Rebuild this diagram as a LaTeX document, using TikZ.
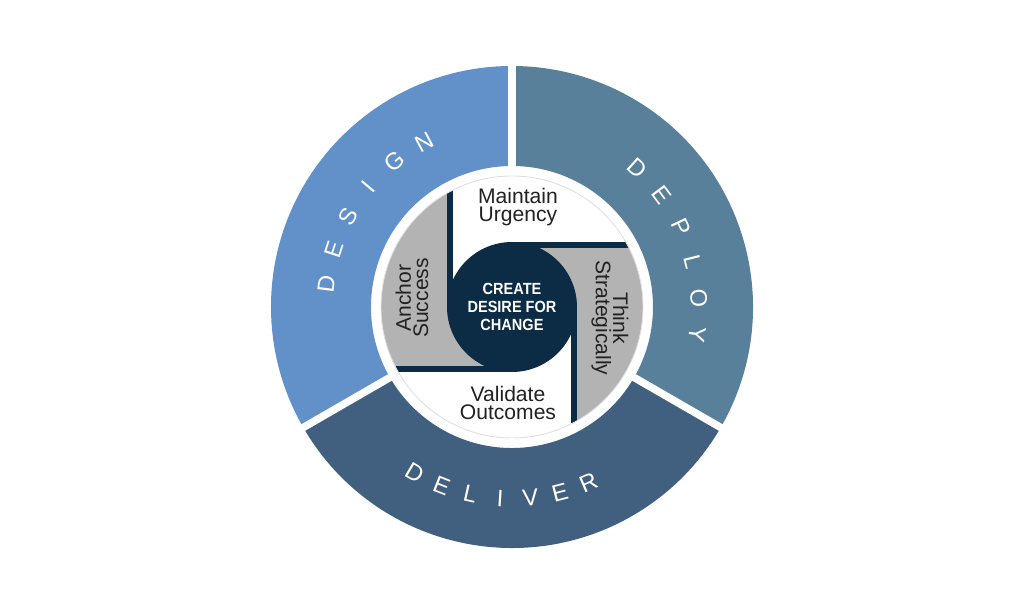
\documentclass[tikz,border=0pt]{standalone}
\usepackage{fontspec}
\setmainfont{Liberation Sans}
\newfontfamily\condfont[FakeStretch=0.9]{Liberation Sans}
\usepackage{xcolor}
\usepackage{tikz}
\usetikzlibrary{positioning}

\definecolor{designblue}{HTML}{6191C8}
\definecolor{deploysteel}{HTML}{58809B}
\definecolor{delivernavy}{HTML}{41607F}
\definecolor{coredark}{HTML}{0C2B44}
\definecolor{panelgray}{HTML}{B3B3B3}
\definecolor{labeltext}{HTML}{222222}

\begin{document}
\begin{tikzpicture}[
    x=0.02cm, y=0.02cm,
    gap/.style={white, line width=0.15cm},
    ringletter/.style={text=white, font=\fontsize{13.5}{13.5}\selectfont, inner sep=0pt},
    phase/.style={text=labeltext, font=\fontsize{12}{9.8}\selectfont, align=center, inner sep=0pt},
    core/.style={circle, fill=coredark, text=white, minimum size=2.6cm, inner sep=0pt, font=\condfont\fontsize{9.2}{10.4}\selectfont\bfseries, align=center},
]
    \useasboundingbox (-512,-307) rectangle (512,307);

    % Outer ring segments
    \fill[designblue] (90:241) arc[start angle=90, end angle=210, radius=241] -- (210:141) arc[start angle=210, end angle=90, radius=141] -- cycle;
    \fill[deploysteel] (-30:241) arc[start angle=-30, end angle=90, radius=241] -- (90:141) arc[start angle=90, end angle=-30, radius=141] -- cycle;
    \fill[delivernavy] (210:241) arc[start angle=210, end angle=330, radius=241] -- (330:141) arc[start angle=330, end angle=210, radius=141] -- cycle;

    % White gaps between segments
    \draw[gap] (90:135) -- (90:247);
    \draw[gap] (210:135) -- (210:247);
    \draw[gap] (330:135) -- (330:247);

    % Ring titles
    \foreach \l [count=\i from 0] in {D,E,S,I,G,N}
        \node[ringletter, rotate={83-11*\i}] (design-\i) at ({173-11*\i}:187) {\l};
    \foreach \l [count=\i from 0] in {D,E,P,L,O,Y}
        \node[ringletter, rotate={-42-11.3*\i}] (deploy-\i) at ({48-11.3*\i}:187) {\l};
    \foreach \l [count=\i from 0] in {D,E,L,I,V,E,R}
        \node[ringletter, rotate={329.5+9*\i}] (deliver-\i) at ({239.5+9*\i}:192) {\l};

    % Inner disk with pinwheel
    \fill[white] (0,0) circle[radius=131];
    \begin{scope}
        \clip (0,0) circle[radius=131];
        \fill[panelgray] (0,59) -- (200,59) -- (200,-200) -- (65,-200) -- (65,0) -- (0,0) -- cycle;
        \fill[panelgray] (0,-59) -- (-200,-59) -- (-200,200) -- (-65,200) -- (-65,0) -- (0,0) -- cycle;
        \fill[coredark] (-65,0) rectangle (-59,200);
        \fill[coredark] (0,59) rectangle (200,65);
        \fill[coredark] (59,0) rectangle (65,-200);
        \fill[coredark] (0,-59) rectangle (-200,-65);
    \end{scope}
    \draw[black!12, line width=0.5pt] (0,0) circle[radius=131];

    % Centre
    \node[core] (desire) at (0,0) {CREATE\\DESIRE FOR\\CHANGE};

    % Quadrant labels
    \node[phase] (urgency) at (6,100) {Maintain\\Urgency};
    \node[phase] (outcomes) at (-4,-96) {Validate\\Outcomes};
    \node[phase, rotate=90] (anchor) at (-100,9) {Anchor\\Success};
    \node[phase, rotate=-90] (strategy) at (98,-11) {Think\\Strategically};
\end{tikzpicture}
\end{document}
